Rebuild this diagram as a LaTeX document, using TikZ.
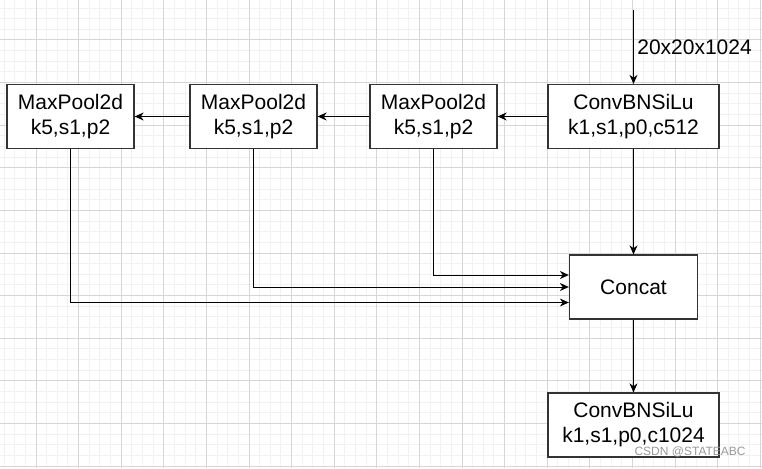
\documentclass[tikz,border=0pt]{standalone}
\usepackage{fontspec}
\setmainfont{Liberation Sans}
\usetikzlibrary{arrows.meta, positioning}

\begin{document}
\begin{tikzpicture}[x=1pt, y=-1pt, >=Stealth, node distance=180pt, font=\fontsize{21}{25}\selectfont]

  % Define styles
  \tikzstyle{block} = [rectangle, minimum height=64pt, text centered, align=center, draw=black!80, line width=1.3pt, fill=white]
  \tikzstyle{pool} = [block, minimum width=127pt]
  \tikzstyle{conv} = [block, minimum width=171pt]
  \tikzstyle{line} = [draw, line width=1pt, -{Stealth[length=9pt, width=8pt]}]
  \tikzstyle{minor} = [draw=black!5, line width=1pt]
  \tikzstyle{major} = [draw=black!16, line width=1pt]

  % Background grid
  \useasboundingbox (0,0) rectangle (762,468);
  \fill[white] (0,0) rectangle (762,468);
  \foreach \i in {0,...,71} \draw[minor] ({4.05+10.65*\i},0) -- ++(0,468);
  \foreach \i in {0,...,43} \draw[minor] (0,{8.05+10.65*\i}) -- ++(762,0);
  \foreach \i in {0,...,17} \draw[major] ({36+42.6*\i},0) -- ++(0,468);
  \foreach \i in {0,...,10} \draw[major] (0,{40+42.6*\i}) -- ++(762,0);

  % Place nodes
  \node [conv] (conv1) at (633.5,116.5) {ConvBNSiLu\\k1,s1,p0,c512};
  \node [pool, left of=conv1, node distance=200pt] (pool1) {MaxPool2d\\k5,s1,p2};
  \node [pool, left of=pool1] (pool2) {MaxPool2d\\k5,s1,p2};
  \node [pool, left of=pool2, node distance=183pt] (pool3) {MaxPool2d\\k5,s1,p2};
  \node [block, minimum width=128pt, below of=conv1, node distance=170.5pt] (concat) {Concat};
  \node [conv, below of=concat, node distance=138pt] (conv2) {ConvBNSiLu\\k1,s1,p0,c1024};
  \coordinate [above of=conv1, node distance=106.5pt] (input);
  \node [anchor=west, text=black!40, font=\fontsize{12}{14}\selectfont] (mark) at (631,452) {CSDN @STATEABC};

  % Draw edges
  \path [line] (input) -- node[right] {20x20x1024} (conv1);
  \path [line] (conv1) -- (pool1);
  \path [line] (pool1) -- (pool2);
  \path [line] (pool2) -- (pool3);
  \path [line] (conv1) -- (concat);
  \path [line] (pool1) |- ([yshift=12pt]concat.west);
  \path [line] (pool2) |- (concat.west);
  \path [line] (pool3) |- ([yshift=-15.5pt]concat.west);
  \path [line] (concat) -- (conv2);

\end{tikzpicture}
\end{document}
